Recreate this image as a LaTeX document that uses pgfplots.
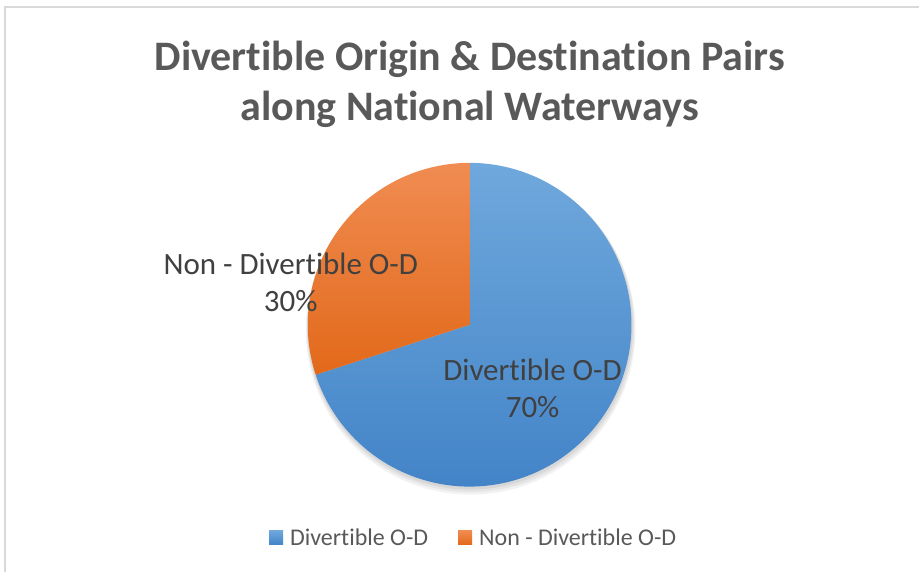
\documentclass[border=0pt]{standalone}
\usepackage{pgfplots}
\pgfplotsset{compat=1.18}
\usepackage{fontspec}
\setmainfont{Carlito}[RawFeature={-liga;-clig;-calt;-dlig}]

\definecolor{titlegray}{HTML}{595959}
\definecolor{labelgray}{HTML}{404040}
\definecolor{framegray}{HTML}{D9D9D9}
\definecolor{blueTop}{HTML}{6FA8DC}
\definecolor{blueBot}{HTML}{4384C8}
\definecolor{orTop}{HTML}{F08C52}
\definecolor{orBot}{HTML}{E2691A}

% shares of the O-D pairs (percent)
\def\divertible{70}
\def\nondivertible{30}

\begin{document}
\begin{tikzpicture}
\pgfmathsetmacro\splitangle{90-3.6*\divertible}
\pgfmathsetmacro\endangle{\splitangle-3.6*\nondivertible}
\begin{axis}[
  width=920pt, height=572pt, scale only axis,
  xmin=0, xmax=920, ymin=0, ymax=572,
  hide axis, clip=false,
  legend columns=2,
  legend style={draw=none, fill=none, at={(axis cs:474,34)}, anchor=center,
    font=\fontsize{24}{28}\selectfont, text=titlegray,
    /tikz/every even column/.append style={column sep=28pt}},
  legend image code/.code={\path[#1, draw=none] (0pt,-7pt) rectangle (14pt,7pt);
    \path (0pt,0pt) -- (19pt,0pt);},
]
\fill[white] (axis cs:0,0) rectangle (axis cs:920,572);
\draw[framegray, line width=1.5pt] (axis cs:5,0) -- (axis cs:5,565) -- (axis cs:920,565);

% soft shadow under the pie
\fill[black, opacity=0.05] (axis cs:471,242) circle[radius=165];
\fill[black, opacity=0.05] (axis cs:471,243.5) circle[radius=164];
\fill[black, opacity=0.06] (axis cs:470.5,245) circle[radius=163];

\addplot[draw=none, top color=blueTop, bottom color=blueBot,
  domain=90:\splitangle, samples=200]
  ({470+162*cos(x)},{247+162*sin(x)}) -- (axis cs:470,247) -- cycle;
\addlegendentry{Divertible O-D}
\addplot[draw=none, top color=orTop, bottom color=orBot,
  domain=\splitangle:\endangle, samples=120]
  ({470+162*cos(x)},{247+162*sin(x)}) -- (axis cs:470,247) -- cycle;
\addlegendentry{Non - Divertible O-D}

\node[font=\fontsize{42}{50}\selectfont\bfseries, text=titlegray, align=center]
  at (axis cs:470,488) {Divertible Origin \& Destination Pairs\\along National Waterways};
\node[font=\fontsize{31}{37}\selectfont, text=labelgray, align=center]
  at (axis cs:291,289) {Non - Divertible O-D\\\nondivertible\%};
\node[font=\fontsize{31}{37}\selectfont, text=labelgray, align=center]
  at (axis cs:533,183) {Divertible O-D\\\divertible\%};
\end{axis}
\end{tikzpicture}
\end{document}
